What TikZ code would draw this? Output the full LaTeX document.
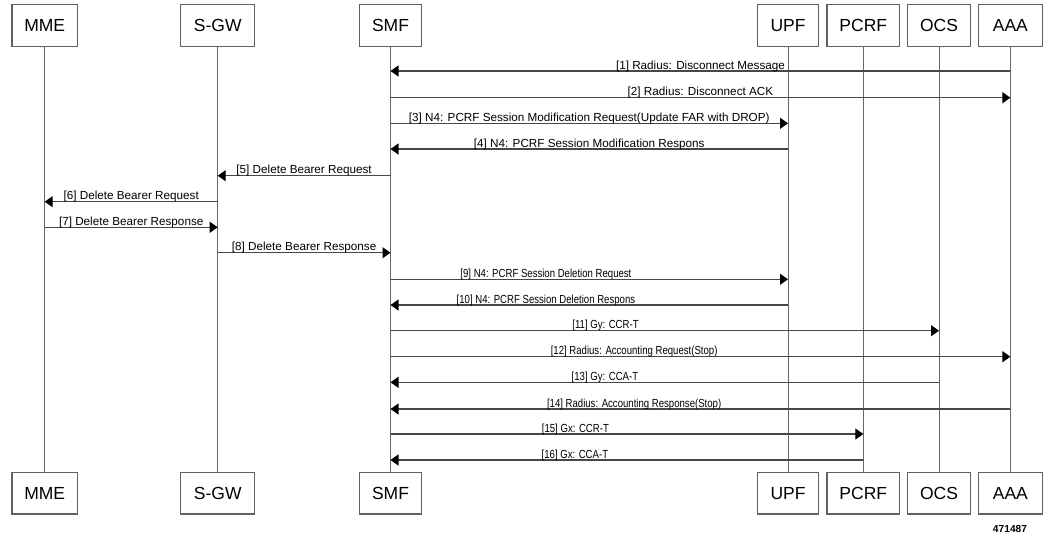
\documentclass[tikz,border=0pt]{standalone}
\usepackage{fontspec}
\setmainfont{Liberation Sans}
\newfontfamily\narrowfont{Liberation Sans}[FakeStretch=0.82]
\usetikzlibrary{arrows.meta}
\tikzset{
  box/.style={draw=black!62, line width=1.1pt, fill=white, minimum height=42pt, inner sep=0pt,
    font=\fontsize{17.5}{20}\selectfont},
  bbox/.style={box, minimum height=41.3pt},
  life/.style={draw=black!60, line width=0.9pt},
  msg/.style={draw=black!72, line width=1.1pt, -{Triangle[length=8pt,width=11pt,color=black]}},
  lbl/.style={anchor=base, yshift=2pt, inner sep=0pt, font=\fontsize{11.7}{14}\selectfont},
  nlbl/.style={anchor=base, yshift=2pt, inner sep=0pt, font=\narrowfont\fontsize{11.7}{14}\selectfont}
}
\begin{document}
\begin{tikzpicture}[x=1pt,y=-1pt]
\useasboundingbox (0,0) rectangle (1044,539);
% top boxes
\node[box, minimum width=65.4pt] (MME) at (44.7,25.7) {MME};
\node[box, minimum width=73.6pt] (SGW) at (217.7,25.7) {S-GW};
\node[box, minimum width=61.7pt] (SMF) at (390.5,25.7) {SMF};
\node[box, minimum width=61.3pt] (UPF) at (788,25.7) {UPF};
\node[box, minimum width=72.6pt] (PCRF) at (863.3,25.7) {PCRF};
\node[box, minimum width=62.6pt] (OCS) at (939,25.7) {OCS};
\node[box, minimum width=63.6pt] (AAA) at (1010.4,25.7) {AAA};
% bottom boxes
\node[bbox, minimum width=65.4pt] (MMEb) at (44.7,493.3) {MME};
\node[bbox, minimum width=73.6pt] (SGWb) at (217.7,493.3) {S-GW};
\node[bbox, minimum width=61.7pt] (SMFb) at (390.5,493.3) {SMF};
\node[bbox, minimum width=61.3pt] (UPFb) at (788,493.3) {UPF};
\node[bbox, minimum width=72.6pt] (PCRFb) at (863.3,493.3) {PCRF};
\node[bbox, minimum width=62.6pt] (OCSb) at (939,493.3) {OCS};
\node[bbox, minimum width=63.6pt] (AAAb) at (1010.4,493.3) {AAA};
% lifelines
\foreach \a in {MME,SGW,SMF,UPF,PCRF,OCS,AAA}{
  \draw[life] (\a.south) -- (\a b.north);
}
% message rows
\coordinate (m1) at (0,71);
\coordinate (m2) at (0,97.7);
\coordinate (m3) at (0,123.3);
\coordinate (m4) at (0,149);
\coordinate (m5) at (0,175.7);
\coordinate (m6) at (0,201.7);
\coordinate (m7) at (0,227.3);
\coordinate (m8) at (0,252.7);
\coordinate (m9) at (0,279.3);
\coordinate (m10) at (0,305);
\coordinate (m11) at (0,330.7);
\coordinate (m12) at (0,356.7);
\coordinate (m13) at (0,382.3);
\coordinate (m14) at (0,409);
\coordinate (m15) at (0,434);
\coordinate (m16) at (0,460);
\draw[msg] (AAA |- m1) -- node[lbl] {[1] Radius: Disconnect Message} (SMF |- m1);
\draw[msg] (SMF |- m2) -- node[lbl] {[2] Radius: Disconnect ACK} (AAA |- m2);
\draw[msg] (SMF |- m3) -- node[lbl] {[3] N4: PCRF Session Modification Request(Update FAR with DROP)} (UPF |- m3);
\draw[msg] (UPF |- m4) -- node[lbl] {[4] N4: PCRF Session Modification Respons} (SMF |- m4);
\draw[msg] (SMF |- m5) -- node[lbl] {[5] Delete Bearer Request} (SGW |- m5);
\draw[msg] (SGW |- m6) -- node[lbl] {[6] Delete Bearer Request} (MME |- m6);
\draw[msg] (MME |- m7) -- node[lbl] {[7] Delete Bearer Response} (SGW |- m7);
\draw[msg] (SGW |- m8) -- node[lbl] {[8] Delete Bearer Response} (SMF |- m8);
\draw[msg] (SMF |- m9) -- node[nlbl, pos=0.391] {[9] N4: PCRF Session Deletion Request} (UPF |- m9);
\draw[msg] (UPF |- m10) -- node[nlbl, pos=0.609] {[10] N4: PCRF Session Deletion Respons} (SMF |- m10);
\draw[msg] (SMF |- m11) -- node[nlbl, pos=0.392] {[11] Gy: CCR-T} (OCS |- m11);
\draw[msg] (SMF |- m12) -- node[nlbl, pos=0.393] {[12] Radius: Accounting Request(Stop)} (AAA |- m12);
\draw[msg] (OCS |- m13) -- node[nlbl, pos=0.609] {[13] Gy: CCA-T} (SMF |- m13);
\draw[msg] (AAA |- m14) -- node[nlbl, pos=0.607] {[14] Radius: Accounting Response(Stop)} (SMF |- m14);
\draw[msg] (SMF |- m15) -- node[nlbl, pos=0.391] {[15] Gx: CCR-T} (PCRF |- m15);
\draw[msg] (PCRF |- m16) -- node[nlbl, pos=0.61] {[16] Gx: CCA-T} (SMF |- m16);
% figure number
\node[inner sep=0pt, font=\bfseries\fontsize{10.2}{12}\selectfont] (fig) at (1010,529) {471487};
\end{tikzpicture}
\end{document}
